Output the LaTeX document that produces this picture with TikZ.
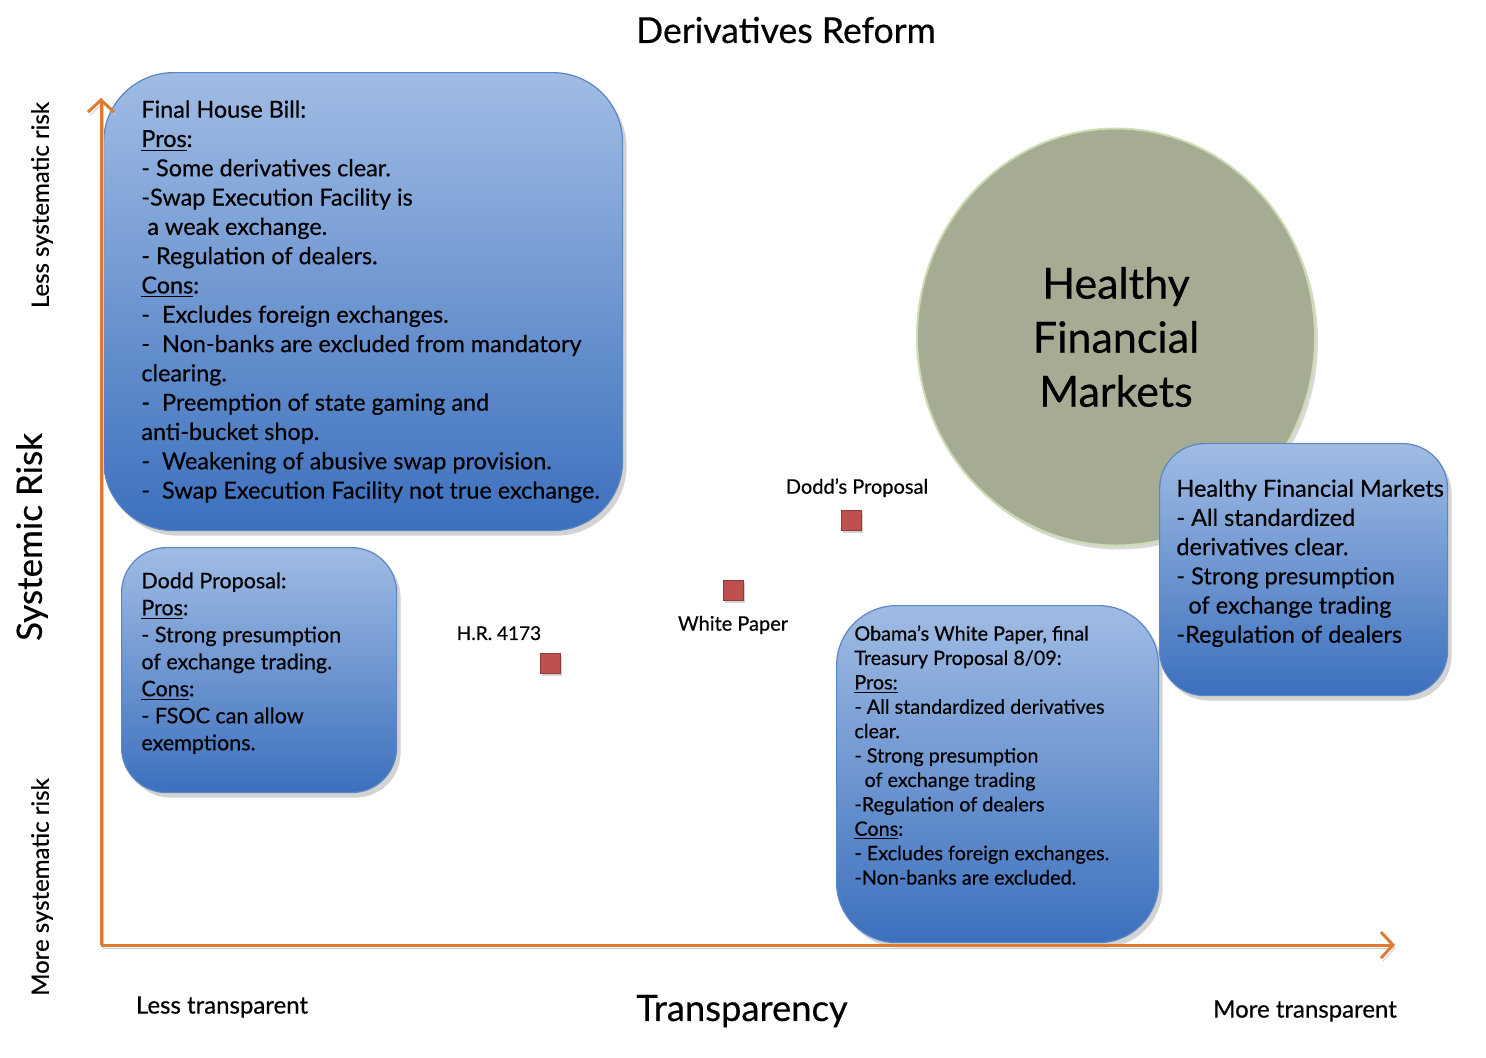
\documentclass[tikz,border=0pt]{standalone}
\usepackage{fontspec}
\setmainfont{Lato}[FakeBold=0.5]
\usepackage{xcolor}
\definecolor{cAxis}{HTML}{E07A32}
\definecolor{cBoxTop}{HTML}{A0BCE4}
\definecolor{cBoxBot}{HTML}{3C70BD}
\definecolor{cBoxLine}{HTML}{5A86C4}
\definecolor{cMark}{HTML}{C0504D}
\definecolor{cMarkLine}{HTML}{8E3B39}
\definecolor{cCircle}{HTML}{A5AC93}
\definecolor{cCircleLine}{HTML}{CCDBB0}
\usetikzlibrary{positioning,arrows.meta,shadows,shapes.geometric}
\tikzset{
  box-plan/.style={draw=cBoxLine,line width=0.6pt,top color=cBoxTop,bottom color=cBoxBot,
    anchor=north west,inner sep=0pt,
    drop shadow={shadow xshift=2pt,shadow yshift=-2.5pt,opacity=0.35}},
  box-text/.style={anchor=north west,align=left,inner sep=0pt,text=black},
  node-mark/.style={draw=cMarkLine,line width=0.5pt,fill=cMark,minimum size=10pt,inner sep=0pt,
    drop shadow={shadow xshift=1pt,shadow yshift=-1.5pt,opacity=0.35}},
  mark-label/.style={font=\fontsize{10}{12}\selectfont,inner sep=0pt},
  axis-label/.style={font=\fontsize{12}{14}\selectfont,inner sep=0pt},
  axis-title/.style={font=\fontsize{18}{21}\selectfont,inner sep=0pt},
  arrow-axis/.style={draw=cAxis,line width=1.5pt,
    -{Straight Barb[length=6pt,width=13pt,line width=1.5pt]},
    preaction={draw=black!20,transform canvas={xshift=1pt,yshift=-1.5pt}}},
}

\begin{document}
\begin{tikzpicture}[x=0.5pt,y=-0.5pt]
  \useasboundingbox (0,0) rectangle (1486,1057);
  \node[axis-title,font=\fontsize{17.8}{21}\selectfont] (title) at (786,30) {Derivatives Reform};

  % goal of the reform
  \node[ellipse,draw=cCircleLine,line width=1pt,fill=cCircle,minimum width=199pt,minimum height=208.5pt,
    inner sep=0pt,align=center,font=\fontsize{21.5}{27}\selectfont,
    drop shadow={shadow xshift=1.5pt,shadow yshift=-2pt,opacity=0.3}]
    (goal) at (1116,337) {Healthy\\Financial\\Markets};

  % proposals
  \node[box-plan,minimum width=259.5pt,minimum height=229pt,rounded corners=35pt] (fhb) at (103,72) {};
  \node[box-text,font=\fontsize{11.7}{14.65}\selectfont,below right=14pt and 19pt of fhb.north west] (fhb-text)
    {Final House Bill:\\
     \underline{Pros}:\\
     - Some derivatives clear.\\
     -Swap Execution Facility is\\
     \ a weak exchange.\\
     - Regulation of dealers.\\
     \underline{Cons}:\\
     -\ \ Excludes foreign exchanges.\\
     -\ \ Non-banks are excluded from mandatory\\
     clearing.\\
     -\ \ Preemption of state gaming and\\
     anti-bucket shop.\\
     -\ \ Weakening of abusive swap provision.\\
     -\ \ Swap Execution Facility not true exchange.};

  \node[box-plan,minimum width=137.5pt,minimum height=122.5pt,rounded corners=22.5pt] (dp) at (121,547) {};
  \node[box-text,font=\fontsize{10.75}{13.5}\selectfont,below right=12.5pt and 10pt of dp.north west] (dp-text)
    {Dodd Proposal:\\
     \underline{Pros}:\\
     - Strong presumption\\
     of exchange trading.\\
     \underline{Cons}:\\
     - FSOC can allow\\
     exemptions.};

  \node[box-plan,minimum width=161pt,minimum height=168.5pt,rounded corners=30pt] (wp) at (836,605) {};
  \node[box-text,font=\fontsize{9.9}{12.2}\selectfont,below right=10pt and 9pt of wp.north west] (wp-text)
    {Obama’s White Paper, final\\
     Treasury Proposal 8/09:\\
     \underline{Pros:}\\
     - All standardized derivatives\\
     clear.\\
     - Strong presumption\\
     \ \ of exchange trading\\
     -Regulation of dealers\\
     \underline{Cons}:\\
     - Excludes foreign exchanges.\\
     -Non-banks are excluded.};

  \node[box-plan,minimum width=144pt,minimum height=126pt,rounded corners=22.5pt] (hfm) at (1159,443) {};
  \node[box-text,font=\fontsize{11.75}{14.6}\selectfont,below right=18pt and 8.5pt of hfm.north west] (hfm-text)
    {Healthy Financial Markets\\
     - All standardized\\
     derivatives clear.\\
     - Strong presumption\\
     \ \ of exchange trading\\
     -Regulation of dealers};

  % positions on the map
  \node[node-mark] (sq-dodd) at (851,520) {};
  \node[node-mark] (sq-white) at (733,590) {};
  \node[node-mark] (sq-hr) at (550,663) {};
  \node[mark-label,above=6pt of sq-dodd,xshift=3pt] (lb-dodd) {Dodd’s Proposal};
  \node[mark-label,below=7.5pt of sq-white] (lb-white) {White Paper};
  \node[mark-label,font=\fontsize{9.5}{12}\selectfont,above left=6pt and -1pt of sq-hr] (lb-hr) {H.R. 4173};

  % axes
  \coordinate (origin) at (101,945);
  \coordinate (ytip) at (101,98);
  \coordinate (xtip) at (1395,945);
  \draw[arrow-axis] (origin) -- (ytip);
  \draw[arrow-axis] (origin) -- (xtip);

  \node[axis-label] (x-less) at (222,1007) {Less transparent};
  \node[axis-title,font=\fontsize{18.2}{21}\selectfont] (x-title) at (742,1011) {Transparency};
  \node[axis-label] (x-more) at (1305,1011) {More transparent};
  \node[axis-label,rotate=90] (y-less) at (42,205) {Less systematic risk};
  \node[axis-title,font=\fontsize{17.5}{20}\selectfont,rotate=90] (y-title) at (32,537) {Systemic Risk};
  \node[axis-label,rotate=90] (y-more) at (42,887) {More systematic risk};
\end{tikzpicture}
\end{document}
